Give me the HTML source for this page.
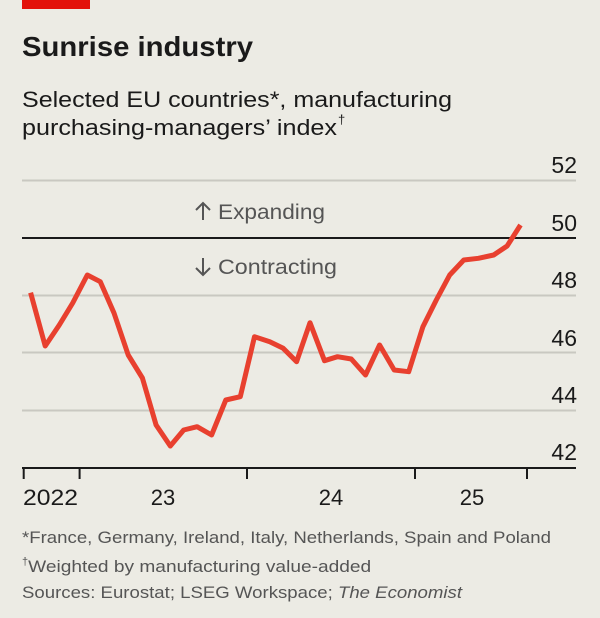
<!DOCTYPE html>
<html><head><meta charset="utf-8"><style>
html,body{margin:0;padding:0;background:#ecebe4;}
svg{display:block;}
text{font-family:"Liberation Sans",sans-serif;}
</style></head><body>
<svg width="600" height="618" viewBox="0 0 600 618" xmlns="http://www.w3.org/2000/svg">
<rect width="600" height="618" fill="#ecebe4"/>
<rect x="22" y="0" width="68" height="9" fill="#e3120b"/>
<text x="22" y="56" font-size="28" font-weight="bold" fill="#1a1a1a" textLength="231" lengthAdjust="spacingAndGlyphs">Sunrise industry</text>
<text x="22" y="107" font-size="22" fill="#1a1a1a" textLength="430" lengthAdjust="spacingAndGlyphs">Selected EU countries*, manufacturing</text>
<text x="22" y="135" font-size="22" fill="#1a1a1a" textLength="315" lengthAdjust="spacingAndGlyphs">purchasing-managers’ index</text>
<text x="338" y="124" font-size="13" fill="#1a1a1a">†</text>
<g stroke="#c9c8c1" stroke-width="2">
<line x1="22" y1="180.5" x2="576" y2="180.5"/>
<line x1="22" y1="295.5" x2="576" y2="295.5"/>
<line x1="22" y1="352.5" x2="576" y2="352.5"/>
<line x1="22" y1="410.5" x2="576" y2="410.5"/>
</g>
<line x1="22" y1="238" x2="576" y2="238" stroke="#1a1a1a" stroke-width="2"/>
<line x1="22" y1="468" x2="576" y2="468" stroke="#1a1a1a" stroke-width="2"/>
<g stroke="#1a1a1a" stroke-width="2">
<line x1="23.7" y1="468" x2="23.7" y2="479"/>
<line x1="79.6" y1="468" x2="79.6" y2="479"/>
<line x1="247" y1="468" x2="247" y2="479"/>
<line x1="415" y1="468" x2="415" y2="479"/>
<line x1="527" y1="468" x2="527" y2="479"/>
</g>
<g font-size="23" fill="#1a1a1a" text-anchor="end">
<text x="577" y="173">52</text>
<text x="577" y="231">50</text>
<text x="577" y="288">48</text>
<text x="577" y="346">46</text>
<text x="577" y="403">44</text>
<text x="577" y="460">42</text>
</g>
<g font-size="22" fill="#1a1a1a">
<text x="23" y="505" textLength="55" lengthAdjust="spacingAndGlyphs">2022</text>
<text x="163" y="505" text-anchor="middle">23</text>
<text x="331" y="505" text-anchor="middle">24</text>
<text x="472" y="505" text-anchor="middle">25</text>
</g>
<g stroke="#555" stroke-width="2" fill="none">
<path d="M203,220 V203 M196,210 L203,203 L210,210"/>
<path d="M203,258 V275 M196,268 L203,275 L210,268"/>
</g>
<g font-size="21" fill="#555">
<text x="218" y="219" textLength="107" lengthAdjust="spacingAndGlyphs">Expanding</text>
<text x="218" y="274" textLength="119" lengthAdjust="spacingAndGlyphs">Contracting</text>
</g>
<polyline fill="none" stroke="#e8402f" stroke-width="5" stroke-linejoin="round" points="30.6,292.7 45.2,346 59.3,325 72.7,303 87.3,275 100.3,281.7 114,313 128.2,355 142.4,378 156.1,425 170.3,446 183.7,430 197.1,426.7 211.6,435 225.8,400 240.3,396.7 254.5,336.7 269.8,341.7 283.2,348.3 296.6,361.7 310,322.7 324.5,360.7 337.5,356.7 351.3,359 365.5,375 379.6,345 394.2,370 408.7,371.7 422.9,326.7 436.3,300 449.7,275 463.8,260 478.4,258.3 493.7,255 507.1,246 520.5,225"/>
<g font-size="17" fill="#555">
<text x="22" y="543" textLength="529" lengthAdjust="spacingAndGlyphs">*France, Germany, Ireland, Italy, Netherlands, Spain and Poland</text>
<text x="22" y="572"><tspan font-size="11" dy="-7">†</tspan><tspan dy="7" textLength="343" lengthAdjust="spacingAndGlyphs">Weighted by manufacturing value-added</tspan></text>
<text x="22" y="598" textLength="440" lengthAdjust="spacingAndGlyphs">Sources: Eurostat; LSEG Workspace; <tspan font-style="italic">The Economist</tspan></text>
</g>
</svg>
</body></html>
